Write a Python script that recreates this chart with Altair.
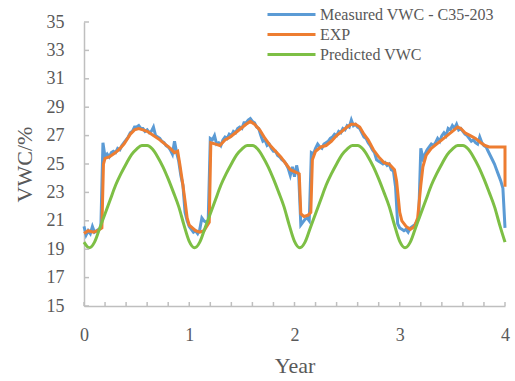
import altair as alt
import pandas as pd
import numpy as np

# ---------------- data ----------------
SERIES = ["Measured VWC - C35-203", "EXP", "Predicted VWC"]
COLORS = ["#5B9BD5", "#ED7D31", "#7DBF45"]

x_labels = [0, 1, 2, 3, 4]
x_minor = [0, 0.2, 0.4, 0.6, 0.8, 1, 1.2, 1.4, 1.6, 1.8, 2, 2.2, 2.4, 2.6, 2.8,
           3, 3.2, 3.4, 3.6, 3.8, 4]
y_labels = [15, 17, 19, 21, 23, 25, 27, 29, 31, 33, 35]

# Measured VWC, sampled every 0.02 year (0.00 ... 4.00)
measured_x = [round(i * 0.02, 2) for i in range(201)]
measured_y = [
    20.6, 20.0, 20.3, 20.1, 20.6, 20.2, 20.3, 20.4, 20.5, 26.5,
    25.5, 25.7, 25.5, 25.8, 25.9, 25.8, 26.1, 26.0, 26.3, 26.5,
    26.7, 26.9, 27.2, 27.3, 27.6, 27.6, 27.7, 27.5, 27.5, 27.3,
    27.4, 27.2, 27.3, 27.6, 27.0, 26.9, 26.8, 26.6, 26.5, 26.3,
    26.2, 26.0, 25.7, 26.6, 25.8, 25.2, 24.2, 23.5, 21.6, 21.0,
    20.6, 20.4, 20.2, 20.3, 20.1, 20.4, 21.2, 21.0, 20.9, 21.0,
    26.8, 26.7, 27.0, 26.4, 26.5, 26.3, 26.7, 26.9, 26.8, 27.1,
    27.0, 27.3, 27.2, 27.5, 27.6, 27.5, 27.9, 27.9, 28.1, 28.2,
    28.0, 27.9, 27.6, 27.5, 27.0, 26.6, 26.7, 26.3, 26.4, 26.1,
    25.9, 25.9, 25.6, 25.5, 25.3, 25.2, 25.0, 24.7, 24.2, 24.8,
    24.1, 24.9, 24.2, 20.7, 20.9, 21.1, 21.2, 21.0, 25.8, 25.7,
    26.1, 26.4, 26.2, 26.1, 26.4, 26.5, 26.6, 26.8, 26.9, 27.1,
    27.0, 27.3, 27.2, 27.5, 27.4, 27.7, 27.6, 28.1, 27.7, 27.8,
    27.6, 27.5, 27.2, 26.9, 26.8, 26.5, 26.3, 26.0, 25.8, 25.3,
    25.2, 25.1, 25.0, 25.1, 24.9, 25.0, 24.6, 24.5, 23.4, 20.8,
    20.5, 20.4, 20.3, 20.4, 20.2, 20.5, 20.6, 20.7, 20.9, 21.2,
    26.1, 25.4, 25.7, 26.0, 26.2, 26.4, 26.3, 26.5, 26.8, 26.6,
    27.0, 27.2, 27.0, 27.5, 27.4, 27.7, 27.5, 27.8, 27.4, 27.5,
    27.3, 27.1, 27.0, 26.8, 26.6, 26.7, 26.5, 26.4, 26.9, 26.5,
    26.3, 26.2, 25.9, 25.6, 25.3, 25.0, 24.6, 24.2, 23.8, 23.3,
    20.5,
]

# EXP fit
exp_x = [0.0, 0.04, 0.09, 0.13, 0.17, 0.185, 0.2, 0.24, 0.28, 0.33, 0.38, 0.44,
         0.48, 0.52, 0.56, 0.6, 0.66, 0.72, 0.77, 0.82, 0.86, 0.89, 0.91, 0.94,
         0.96, 0.98, 1.0, 1.03, 1.06, 1.1, 1.14, 1.19, 1.205, 1.25, 1.29, 1.34,
         1.39, 1.44, 1.49, 1.54, 1.58, 1.62, 1.67, 1.72, 1.77, 1.82, 1.87, 1.92,
         1.96, 2.02, 2.045, 2.06, 2.09, 2.13, 2.155, 2.17, 2.2, 2.25, 2.3, 2.35,
         2.4, 2.45, 2.5, 2.54, 2.58, 2.62, 2.66, 2.7, 2.75, 2.8, 2.85, 2.9, 2.95,
         2.97, 3.0, 3.02, 3.06, 3.1, 3.14, 3.17, 3.2, 3.22, 3.25, 3.3, 3.35, 3.4,
         3.45, 3.5, 3.55, 3.58, 3.62, 3.67, 3.72, 3.77, 3.81, 3.85, 3.9, 3.95,
         4.0, 4.0]
exp_y = [20.1, 20.3, 20.2, 20.3, 20.5, 25.0, 25.4, 25.5, 25.7, 26.0, 26.4, 27.1,
         27.4, 27.5, 27.4, 27.3, 27.0, 26.7, 26.4, 26.1, 25.8, 25.9, 25.0, 23.5,
         22.4, 21.2, 20.7, 20.5, 20.3, 20.2, 20.3, 20.9, 26.5, 26.4, 26.3, 26.7,
         26.9, 27.2, 27.5, 27.8, 28.0, 27.8, 27.4, 26.8, 26.3, 25.9, 25.5, 25.0,
         24.6, 24.4, 24.3, 21.5, 21.3, 21.4, 21.6, 25.3, 25.9, 26.2, 26.3, 26.6,
         27.0, 27.3, 27.6, 27.8, 27.8, 27.6, 27.1, 26.7, 26.0, 25.5, 25.1, 25.0, 24.6,
         23.8, 21.6, 21.0, 20.6, 20.4, 20.6, 21.2, 23.5, 24.8, 25.6, 26.1, 26.4, 26.7,
         27.0, 27.3, 27.6, 27.5, 27.2, 27.0, 26.8, 26.5, 26.3, 26.2, 26.2, 26.2,
         26.2, 23.4]

# Predicted VWC, sampled every 0.05 year (0.00 ... 4.00)
pred_x = [round(i * 0.05, 2) for i in range(81)]
pred_y = [
    19.5, 19.1, 19.5, 20.5, 21.5, 22.5, 23.5, 24.3, 25.0, 25.65,
    26.05, 26.3, 26.3, 26.05, 25.5, 24.8, 23.95, 23.0, 22.0, 20.7,
    19.55, 19.1, 19.5, 20.5, 21.5, 22.5, 23.5, 24.3, 25.0, 25.65,
    26.05, 26.3, 26.3, 26.05, 25.5, 24.8, 23.95, 23.0, 22.0, 20.7,
    19.55, 19.1, 19.5, 20.5, 21.5, 22.5, 23.5, 24.3, 25.0, 25.65,
    26.05, 26.3, 26.3, 26.05, 25.5, 24.8, 23.95, 23.0, 22.0, 20.7,
    19.55, 19.1, 19.5, 20.5, 21.5, 22.5, 23.5, 24.3, 25.0, 25.65,
    26.05, 26.3, 26.3, 26.05, 25.5, 24.8, 23.95, 23.0, 22.0, 20.7,
    19.5,
]

# ---------------- build tables ----------------
def table(xs, ys, name):
    return pd.DataFrame({"year": xs, "vwc": ys, "series": name, "i": range(len(xs))})

df = pd.concat([
    table(measured_x, measured_y, SERIES[0]),
    table(exp_x, exp_y, SERIES[1]),
    table(pred_x, pred_y, SERIES[2]),
])

W, H = 421, 284
FONT = "Liberation Serif"
GRAY_TXT = "#595959"
GRAY_AX = "#BFBFBF"

x_scale = alt.Scale(domain=[0, 4], nice=False, zero=False)
y_scale = alt.Scale(domain=[15, 35], nice=False, zero=False)
color_scale = alt.Scale(domain=SERIES, range=COLORS)

x_enc = alt.X("year:Q", scale=x_scale, title="Year",
              axis=alt.Axis(values=x_labels, ticks=False, grid=False, labelPadding=20,
                            labelFlush=False, labelOverlap=False,
                            domainColor=GRAY_AX, domainWidth=1.5, titlePadding=11,
                            format="d"))
y_enc = alt.Y("vwc:Q", scale=y_scale, title="VWC/%",
              axis=alt.Axis(values=y_labels, ticks=False, grid=False, labelPadding=20,
                            labelFlush=False, labelOverlap=False,
                            domainColor=GRAY_AX, domainWidth=1.5, titlePadding=10))

# long horizontal line symbol (custom path, 48 px wide at size 256)
legend = alt.Legend(title=None, orient="none", legendX=198, legendY=-17,
                    symbolType="M-3,0H3", symbolSize=256, symbolStrokeWidth=3,
                    labelFont=FONT, labelFontSize=16, labelColor=GRAY_TXT,
                    labelLimit=400, labelOffset=19, rowPadding=2)

def line_layer(name, width, interp="linear", show_legend=False):
    return alt.Chart(df).transform_filter(alt.datum.series == name).mark_line(
        strokeWidth=width, interpolate=interp
    ).encode(
        x=x_enc, y=y_enc,
        color=alt.Color("series:N", scale=color_scale,
                        legend=legend if show_legend else None),
        order=alt.Order("i:Q"),
    )

meas = line_layer(SERIES[0], 3.0, show_legend=True)
expl = line_layer(SERIES[1], 3.0)
pred = line_layer(SERIES[2], 3.0, interp="monotone")

# inward-pointing tick marks (same fields/axes as the lines so axes merge)
xt = pd.DataFrame({"year": x_minor})
yt = pd.DataFrame({"vwc": y_labels})
xticks = alt.Chart(xt).mark_rule(color=GRAY_AX, strokeWidth=1.5).encode(
    x=x_enc, y=alt.value(H - 4), y2=alt.value(H))
yticks = alt.Chart(yt).mark_rule(color=GRAY_AX, strokeWidth=1.5).encode(
    y=y_enc, x=alt.value(0), x2=alt.value(5))

chart = alt.layer(meas, expl, pred, xticks, yticks).properties(
    width=W, height=H,
    autosize=alt.AutoSizeParams(type="none"),
    padding={"left": 84, "top": 22, "right": 10, "bottom": 75},
).configure_view(strokeWidth=0).configure_axis(
    labelFont=FONT, labelFontSize=18, labelColor=GRAY_TXT,
    titleFont=FONT, titleFontSize=22, titleColor=GRAY_TXT, titleFontWeight="normal",
).configure_legend(labelFont=FONT, labelFontSize=16, labelColor=GRAY_TXT, labelLimit=400)

chart.save("out.html", embed_options={"renderer": "svg", "actions": False})
